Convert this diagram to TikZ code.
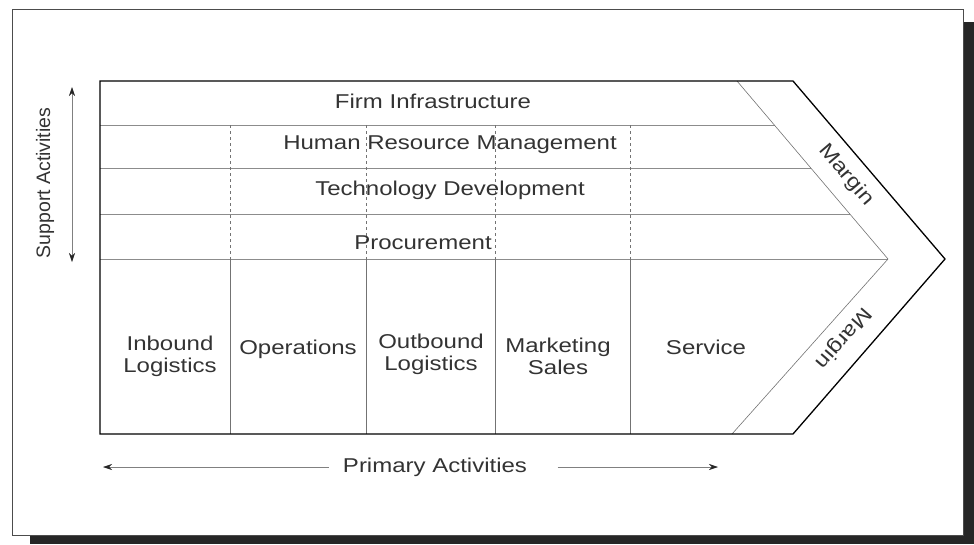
\documentclass[tikz,border=0pt]{standalone}
\usepackage{fontspec}
\setmainfont{Liberation Sans}[FakeStretch=1.2]
\newfontfamily\uprightsans{Liberation Sans}
\usetikzlibrary{arrows.meta}

\begin{document}
\begin{tikzpicture}[x=1pt,y=-1pt,
  every node/.style={font=\fontsize{20}{22}\selectfont, text=black!80},
  rowline/.style={draw=black!45, line width=0.6pt},
  divider/.style={draw=black!55, line width=0.6pt},
  arrowline/.style={draw=black!50, line width=0.6pt,
    arrows={Stealth[length=9pt,width=6pt,black!85]-Stealth[length=9pt,width=6pt,black!85]}}]
\useasboundingbox (0,0) rectangle (974,544);
% frame and shadow
\fill [black!85] (964,22) rectangle (974,544);
\fill [black!85] (30,536) rectangle (974,544);
\draw [black!70, line width=0.8pt] (12,9) rectangle (963,535);

% chain outline
\coordinate (nw) at (100,81);
\coordinate (ne) at (793,81);
\coordinate (tip) at (945,259);
\coordinate (se) at (793,434);
\coordinate (sw) at (100,434);
\coordinate (in top) at (737,81);
\coordinate (in tip) at (888,259);
\coordinate (in bot) at (732,434);
\foreach \y/\x in {125/775,168/811,214/850}
  \draw [rowline] (100,\y) -- (\x,\y);
\draw [rowline] (100,259) -- (in tip);
\foreach \x in {230,366,495,630} {
  \draw [divider, dash pattern=on 3pt off 3pt] (\x,125) -- (\x,259);
  \draw [divider] (\x,259) -- (\x,434);
}
\draw [divider] (in top) -- (in tip) -- (in bot);
\draw [line width=1.3pt, line join=miter] (nw) -- (ne) -- (tip) -- (se) -- (sw) -- cycle;

% support activities
\node (firm) at (433,101) {Firm Infrastructure};
\node (hrm) at (450,145) {Human Resource Management};
\node (tech) at (450,190) {Technology Development};
\node (proc) at (423,243) {Procurement};

% primary activities
\node (inbound) [align=center] at (170,356) {Inbound\\Logistics};
\node (ops) at (298,349) {Operations};
\node (outbound) [align=center] at (431,354) {Outbound\\Logistics};
\node (mkt) [align=center] at (558,356) {Marketing\\Sales};
\node (service) at (706,347) {Service};

% margin
\node (margin top) [rotate=-49.5] at (846,175) {Margin};
\node (margin bot) [rotate=229] at (843,338) {Margin};

% axis labels
\coordinate (sa top) at (72,87);
\coordinate (sa bot) at (72,262);
\draw [arrowline] (sa top) -- (sa bot);
\node (support) [rotate=90, font=\uprightsans\fontsize{19.5}{22}\selectfont] at (45,183) {Support Activities};

\node (primary) at (435,467) {Primary Activities};
\coordinate (pa left) at (103,467);
\coordinate (pa right) at (718,467);
\draw [arrowline, arrows={Stealth[length=9pt,width=6pt,black!85]-}] (pa left) -- ([xshift=-10pt]primary.west);
\draw [arrowline, arrows={-Stealth[length=9pt,width=6pt,black!85]}] ([xshift=27pt]primary.east) -- (pa right);
\end{tikzpicture}
\end{document}
